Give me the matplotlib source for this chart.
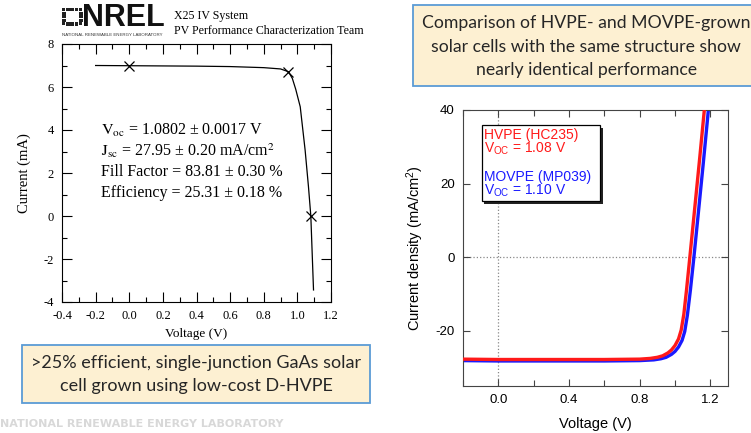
import matplotlib
matplotlib.use("Agg")
import matplotlib.pyplot as plt
from matplotlib.patches import Rectangle
from matplotlib.ticker import MultipleLocator, FormatStrFormatter

W, H = 751, 433

# ---- Left panel: NREL X25 I-V measurement of the D-HVPE GaAs cell ----
iv_voltage = [-0.2, 0.0, 0.2, 0.4, 0.6, 0.8, 0.9, 0.947, 0.97, 0.99, 1.017, 1.046, 1.066, 1.080, 1.096]
iv_current = [7.0, 6.99, 6.98, 6.97, 6.95, 6.90, 6.84, 6.71, 6.40, 5.90, 5.08, 3.07, 1.36, 0.0, -3.44]
# Points marked on the curve: Isc, max power point, Voc
mark_voltage = [0.0, 0.947, 1.080]
mark_current = [6.99, 6.71, 0.0]

iv_stats = [
    r"$\mathrm{V_{oc}}$ = 1.0802 ± 0.0017 V",
    r"$\mathrm{J_{sc}}$ = 27.95 ± 0.20 mA/cm$^\mathrm{2}$",
    "Fill Factor = 83.81 ± 0.30 %",
    "Efficiency = 25.31 ± 0.18 %",
]

# ---- Right panel: HVPE vs MOVPE light J-V curves ----
hvpe_voltage = [-0.2, 0.0, 0.2, 0.4, 0.6, 0.8, 0.86, 0.90, 0.93, 0.96, 0.98, 1.00, 1.02,
                1.035, 1.05, 1.065, 1.084, 1.11, 1.14, 1.166, 1.18]
hvpe_current = [-27.7, -27.8, -27.8, -27.8, -27.8, -27.7, -27.5, -27.2, -26.8, -26.0, -25.2,
                -24.0, -22.2, -19.8, -15.5, -9.0, 0.0, 12.5, 27.0, 40.0, 47.0]
movpe_voltage = [-0.2, 0.0, 0.2, 0.4, 0.6, 0.8, 0.88, 0.92, 0.95, 0.98, 1.00, 1.02, 1.04,
                 1.055, 1.07, 1.087, 1.107, 1.13, 1.16, 1.185, 1.195]
movpe_current = [-28.1, -28.2, -28.2, -28.2, -28.2, -28.1, -27.9, -27.6, -27.2, -26.4, -25.6,
                 -24.4, -22.6, -20.2, -15.8, -9.0, 0.0, 11.0, 25.5, 38.0, 43.0]

legend_lines = [
    ("HVPE (HC235)", "#ff1a1a"),
    (r"$\mathrm{V_{OC}}$ = 1.08 V", "#ff1a1a"),
    ("MOVPE (MP039)", "#1a1aff"),
    (r"$\mathrm{V_{OC}}$ = 1.10 V", "#1a1aff"),
]

plt.rcParams["axes.unicode_minus"] = False
plt.rcParams["mathtext.fontset"] = "custom"
plt.rcParams["mathtext.rm"] = "Liberation Sans"
plt.rcParams["mathtext.it"] = "Liberation Sans:italic"
plt.rcParams["mathtext.bf"] = "Liberation Sans:bold"

fig = plt.figure(figsize=(W / 100, H / 100), dpi=100)
fig.patch.set_facecolor("white")


def fx(x):
    return x / W


def fy(y):
    return 1 - y / H


def fig_rect(x0, y0, x1, y1, **kw):
    r = Rectangle((fx(x0), fy(y1)), (x1 - x0) / W, (y1 - y0) / H,
                  transform=fig.transFigure, **kw)
    fig.add_artist(r)
    return r


SERIF = "Liberation Serif"
SANS = "Liberation Sans"

# ================= Left panel =================
axL = fig.add_axes([fx(62), fy(302), 269 / W, 258 / H])
axL.plot(iv_voltage, iv_current, color="black", lw=0.9)
axL.plot(mark_voltage, mark_current, ls="none", marker="x", ms=7, mew=0.9, color="black")
axL.set_xlim(-0.4, 1.2)
axL.set_ylim(-4, 8)
axL.xaxis.set_major_locator(MultipleLocator(0.2))
axL.xaxis.set_minor_locator(MultipleLocator(0.1))
axL.yaxis.set_major_locator(MultipleLocator(2))
axL.yaxis.set_minor_locator(MultipleLocator(1))
axL.xaxis.set_major_formatter(FormatStrFormatter("%.1f"))
axL.yaxis.set_major_formatter(FormatStrFormatter("%d"))
axL.tick_params(which="both", direction="in", top=True, right=True, width=0.8, color="black")
axL.tick_params(which="major", length=7, labelsize=9, pad=6)
axL.tick_params(which="minor", length=3.5)
for lab in axL.get_xticklabels() + axL.get_yticklabels():
    lab.set_fontfamily(SERIF)
for s in axL.spines.values():
    s.set_linewidth(0.8)
axL.set_xlabel("Voltage (V)", fontfamily=SERIF, fontsize=9.5, labelpad=4)
axL.set_ylabel("Current (mA)", fontfamily=SERIF, fontsize=10.5, labelpad=9)

for i, line in enumerate(iv_stats):
    fig.text(fx(101), fy(130 + 21 * i), line, fontfamily=SERIF, fontsize=11.5,
             va="center", ha="left", math_fontfamily="stix")

# Header: logo and system name
cells = [(0, 1), (0, 2), (0, 3), (1, 0), (1, 4), (2, 0), (2, 4), (3, 0), (3, 4),
         (4, 1), (4, 2), (4, 3), (0, 0), (0, 4), (4, 0), (4, 4)]
for r, c in cells:
    size = 3.2 if (r in (0, 4) and c in (0, 4)) else 3.8
    x0 = 62 + c * 4.2
    y0 = 8 + r * 3.6
    fig_rect(x0, y0, x0 + size, y0 + size * 0.85, facecolor="#222222", edgecolor="none")
fig.text(fx(82), fy(26.5), "NREL", fontfamily=SANS, fontweight="bold", fontsize=22,
         va="baseline", ha="left", color="#111111")
fig.text(fx(62), fy(34.5), "NATIONAL RENEWABLE ENERGY LABORATORY", fontfamily=SANS,
         fontsize=3.2, va="center", ha="left", color="#333333")
fig.text(fx(174), fy(16), "X25 IV System", fontfamily=SERIF, fontsize=8.6,
         va="center", ha="left")
fig.text(fx(174), fy(31), "PV Performance Characterization Team", fontfamily=SERIF,
         fontsize=8.6, va="center", ha="left")

# ================= Right panel =================
axR = fig.add_axes([fx(463), fy(386), 265 / W, 276 / H])
axR.axvline(0, color="#888888", ls=":", lw=0.9, zorder=1)
axR.axhline(0, color="#888888", ls=":", lw=0.9, zorder=1)
axR.plot(hvpe_voltage, hvpe_current, color="#ff1a1a", lw=2.4, zorder=3)
axR.plot(movpe_voltage, movpe_current, color="#1a1aff", lw=2.4, zorder=2)
axR.set_xlim(-0.2, 1.3)
axR.set_ylim(-35, 40)
axR.xaxis.set_major_locator(MultipleLocator(0.4))
axR.xaxis.set_minor_locator(MultipleLocator(0.2))
axR.yaxis.set_major_locator(MultipleLocator(20))
axR.xaxis.set_major_formatter(FormatStrFormatter("%.1f"))
axR.yaxis.set_major_formatter(FormatStrFormatter("%d"))
axR.tick_params(which="both", direction="in", top=True, right=True, width=0.8,
                color="#444444")
axR.tick_params(which="major", length=5, labelsize=9.5, pad=6)
axR.tick_params(which="minor", length=4)
for lab in axR.get_xticklabels() + axR.get_yticklabels():
    lab.set_fontfamily(SANS)
for s in axR.spines.values():
    s.set_linewidth(0.8)
    s.set_color("#444444")
axR.set_xlabel("Voltage (V)", fontfamily=SANS, fontsize=10.5, labelpad=8)
axR.set_ylabel(r"Current density (mA/cm$^\mathrm{2}$)", fontfamily=SANS, fontsize=10.5,
               labelpad=7)

# Boxed legend with drop shadow
fig_rect(484.5, 128, 602.5, 204.5, facecolor="#222222", edgecolor="none", zorder=4)
fig_rect(481.5, 125, 600, 201.5, facecolor="white", edgecolor="black", lw=0.9, zorder=5)
legend_y = [135, 149, 177, 191]
for (txt, col), yy in zip(legend_lines, legend_y):
    fig.text(fx(484), fy(yy), txt, color=col, fontfamily=SANS, fontsize=10,
             va="center", ha="left", zorder=6)

# ================= Callout boxes =================
BOX_FILL = "#fdf0d2"
BOX_EDGE = "#5b9bd5"
fig_rect(413, 5, 780, 86, facecolor=BOX_FILL, edgecolor=BOX_EDGE, lw=1.3, zorder=2)
for txt, yy in zip(["Comparison of HVPE- and MOVPE-grown",
                    "solar cells with the same structure show",
                    "nearly identical performance"], [23, 47, 70]):
    fig.text(fx(586), fy(yy), txt, fontfamily="Lato", fontsize=12.7, color="#262626",
             ha="center", va="center", zorder=3)

fig_rect(22, 345, 370, 403, facecolor=BOX_FILL, edgecolor=BOX_EDGE, lw=1.3, zorder=2)
for txt, yy in zip([">25% efficient, single-junction GaAs solar",
                    "cell grown using low-cost D-HVPE"], [363, 386]):
    fig.text(fx(196), fy(yy), txt, fontfamily="Lato", fontsize=13, color="#262626",
             ha="center", va="center", zorder=3)

fig.text(fx(0), fy(424), "NATIONAL RENEWABLE ENERGY LABORATORY", fontfamily="DejaVu Sans",
         fontweight="bold", fontsize=8, color="#d8d8d8", ha="left", va="center")

fig.savefig("out.png", dpi=100)
